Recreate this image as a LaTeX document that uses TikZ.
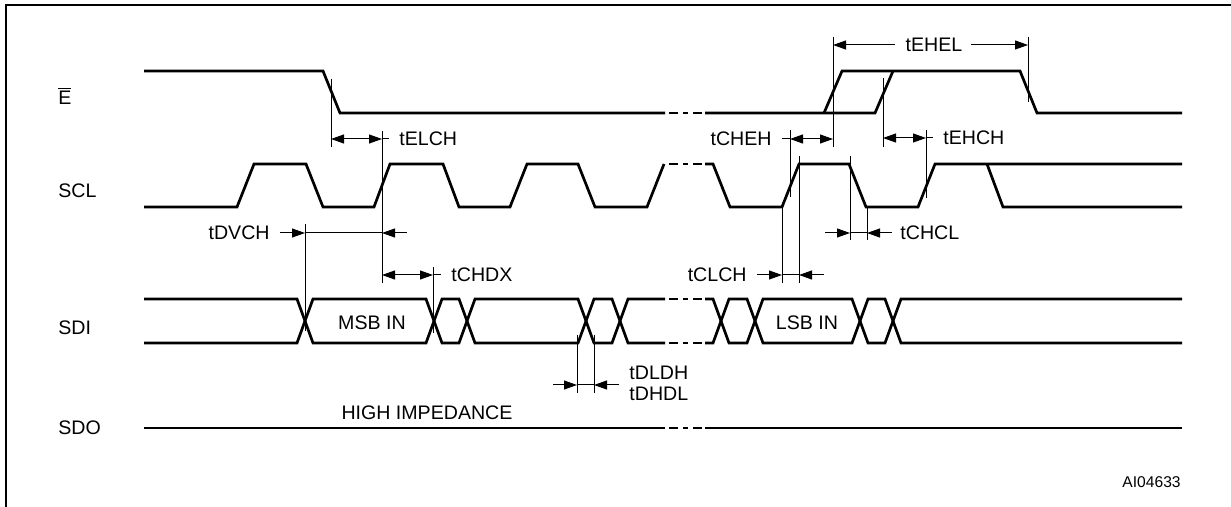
\documentclass[tikz,border=0pt]{standalone}
\usepackage{fontspec}
\setmainfont{Liberation Sans}
\usetikzlibrary{arrows.meta}

\begin{document}
\begin{tikzpicture}[x=0.5pt,y=-0.5pt,
    wave/.style={line width=1.35pt},
    guide/.style={line width=0.5pt},
    dim/.style={line width=0.5pt,>={Triangle[length=6.5pt,width=4.5pt]}},
    lbl/.style={font=\fontsize{9.8}{11}\selectfont,inner sep=0pt}]
\useasboundingbox (0,0) rectangle (1231,507);
\draw[line width=1pt] (6,507) -- (6,5.5) -- (1231,5.5);

% signal names
\node[lbl,anchor=base west] (nameE) at (58,105) {$\overline{\mbox{E}}$};
\node[lbl,anchor=west] (nameSCL) at (58,190.5) {SCL};
\node[lbl,anchor=west] (nameSDI) at (58,328) {SDI};
\node[lbl,anchor=west] (nameSDO) at (58,428) {SDO};

% E
\draw[wave] (144,71) -- (323,71) -- (340,113) -- (665,113);
\draw[wave] (705,113) -- (875,113) -- (893,71);
\draw[wave] (824,113) -- (842,71) -- (1020,71) -- (1037,113) -- (1182,113);

% SCL
\draw[wave] (144,207) -- (237,207) -- (254,164) -- (306,164) -- (323,207)
   -- (374,207) -- (390,164) -- (443,164) -- (459,207) -- (510,207)
   -- (527,164) -- (578,164) -- (595,207) -- (647,207) -- (664,164);
\draw[wave] (705,164) -- (713,164) -- (730,207) -- (782,207) -- (799,164)
   -- (849,164) -- (866,207) -- (918,207) -- (935,164) -- (1182,164);
\draw[wave] (987,164) -- (1003,207) -- (1182,207);

% SDI
\draw[wave] (144,299) -- (297,299) -- (313,343) -- (426,343) -- (442,299)
   -- (459,299) -- (475,343) -- (578,343) -- (594,299) -- (612,299)
   -- (628,343) -- (665,343);
\draw[wave] (144,343) -- (297,343) -- (313,299) -- (426,299) -- (442,343)
   -- (459,343) -- (475,299) -- (578,299) -- (594,343) -- (612,343)
   -- (628,299) -- (665,299);
\draw[wave] (705,299) -- (713,299) -- (729,343) -- (747,343) -- (763,299)
   -- (852,299) -- (868,343) -- (885,343) -- (901,299) -- (1182,299);
\draw[wave] (705,343) -- (713,343) -- (729,299) -- (747,299) -- (763,343)
   -- (852,343) -- (868,299) -- (885,299) -- (901,343) -- (1182,343);
\node[lbl] (msb) at (372,323) {MSB IN};
\node[lbl] (lsb) at (807,323) {LSB IN};

% SDO
\draw[wave] (144,428) -- (665,428);
\draw[wave] (705,428) -- (1182,428);
\node[lbl] (hiz) at (427,413) {HIGH IMPEDANCE};

% breaks
\foreach \y in {113,164,299,343,428}
  \foreach \a/\b in {669/678,683/688,693/702}
    \draw[wave] (\a,\y) -- (\b,\y);

% tELCH
\draw[guide] (331,79) -- (331,147);
\draw[guide] (382,131) -- (382,283);
\coordinate (elchA) at (331,139);
\coordinate (elchB) at (382,139);
\draw[dim,<->] (elchA) -- (elchB);
\draw[dim] (elchB) -- ++(7,0);
\node[lbl,anchor=west] (tELCH) at (399,139) {tELCH};

% tDVCH
\draw[guide] (305,224) -- (305,331);
\coordinate (dvchA) at (305,233);
\coordinate (dvchB) at (382,233);
\draw[dim] (dvchA) -- (dvchB);
\draw[dim,<-] (dvchA) -- ++(-25,0);
\draw[dim,<-] (dvchB) -- ++(25,0);
\node[lbl,anchor=east] (tDVCH) at (270,233) {tDVCH};

% tCHDX
\draw[guide] (433,267) -- (433,333);
\coordinate (chdxA) at (382,275);
\coordinate (chdxB) at (433,275);
\draw[dim,<->] (chdxA) -- (chdxB);
\draw[dim] (chdxB) -- ++(8,0);
\node[lbl,anchor=west] (tCHDX) at (451,275) {tCHDX};

% tCHEH
\draw[guide] (790,130) -- (790,197);
\draw[guide] (833,37) -- (833,147);
\coordinate (chehA) at (790,139);
\coordinate (chehB) at (833,139);
\draw[dim,<->] (chehA) -- (chehB);
\draw[dim] (chehA) -- ++(-8,0);
\node[lbl,anchor=east] (tCHEH) at (772,139) {tCHEH};

% tEHEL
\draw[guide] (1028,37) -- (1028,102);
\coordinate (ehelA) at (833,45);
\coordinate (ehelB) at (1028,45);
\node[lbl] (tEHEL) at (934,45) {tEHEL};
\draw[dim,<-] (ehelA) -- ([xshift=-5pt]tEHEL.west);
\draw[dim,<-] (ehelB) -- ([xshift=4pt]tEHEL.east);

% tEHCH
\draw[guide] (883,78) -- (883,147);
\draw[guide] (926,130) -- (926,198);
\coordinate (ehchA) at (883,138);
\coordinate (ehchB) at (926,138);
\draw[dim,<->] (ehchA) -- (ehchB);
\draw[dim] (ehchB) -- ++(7,0);
\node[lbl,anchor=west] (tEHCH) at (943,138) {tEHCH};

% tCHCL
\draw[guide] (850,156) -- (850,240);
\draw[guide] (867,207) -- (867,240);
\coordinate (chclA) at (850,233);
\coordinate (chclB) at (867,233);
\draw[dim] (chclA) -- (chclB);
\draw[dim,<-] (chclA) -- ++(-25,0);
\draw[dim,<-] (chclB) -- ++(25,0);
\node[lbl,anchor=west] (tCHCL) at (900,233) {tCHCL};

% tCLCH
\draw[guide] (782,207) -- (782,283);
\draw[guide] (799,156) -- (799,283);
\coordinate (clchA) at (782,275);
\coordinate (clchB) at (799,275);
\draw[dim] (clchA) -- (clchB);
\draw[dim,<-] (clchA) -- ++(-25,0);
\draw[dim,<-] (clchB) -- ++(25,0);
\node[lbl,anchor=east] (tCLCH) at (747,275) {tCLCH};

% tDLDH / tDHDL
\draw[guide] (577,335) -- (577,393);
\draw[guide] (594,335) -- (594,393);
\coordinate (dldhA) at (577,385);
\coordinate (dldhB) at (594,385);
\draw[dim] (dldhA) -- (dldhB);
\draw[dim,<-] (dldhA) -- ++(-24,0);
\draw[dim,<-] (dldhB) -- ++(25,0);
\node[lbl,anchor=west] (tDLDH) at (629,373) {tDLDH};
\node[lbl,anchor=west] (tDHDL) at (629,394) {tDHDL};

\node[lbl,font=\fontsize{7.8}{9}\selectfont,anchor=east] (figId) at (1181,482) {AI04633};
\end{tikzpicture}
\end{document}
